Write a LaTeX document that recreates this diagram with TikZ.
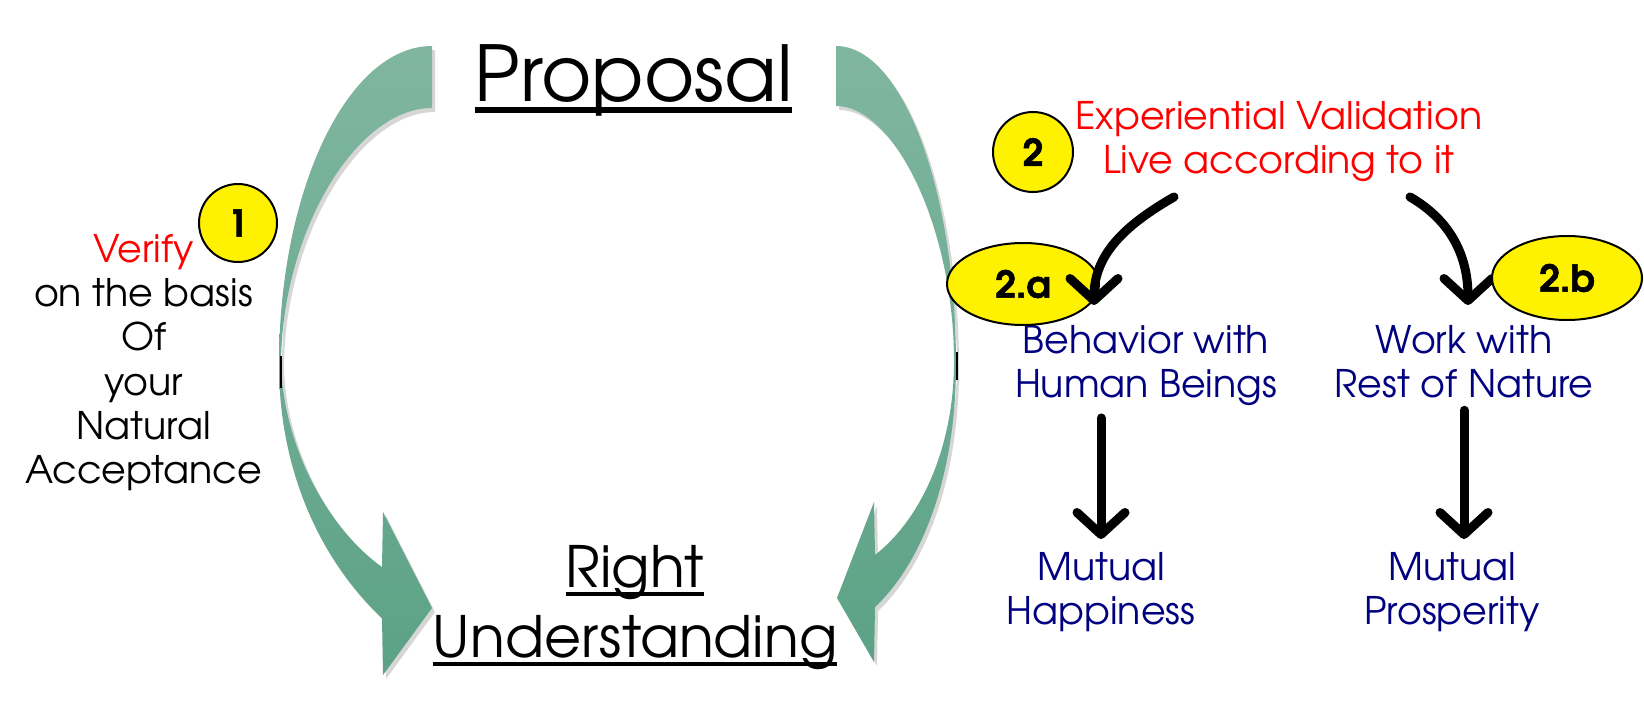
\documentclass[tikz,border=0pt]{standalone}
\usepackage{fontspec}
\setmainfont{TeX Gyre Adventor}
\newfontfamily\badgefont{TeX Gyre Adventor}[BoldFeatures={FakeBold=1.5}]
\usepackage{tikz}
\usetikzlibrary{arrows.meta, positioning, calc, shapes.geometric}
\definecolor{navytext}{RGB}{0,0,128}
\definecolor{bendtop}{RGB}{128,182,160}
\definecolor{bendbot}{RGB}{92,162,134}
\tikzset{
  bigtitle/.style   = {font=\fontsize{77}{92}\selectfont, inner sep=0pt},
  subtitle/.style   = {font=\fontsize{57}{70}\selectfont, align=center,
                       inner sep=0pt, anchor=north},
  bodytext/.style   = {font=\fontsize{38}{44.3}\selectfont, align=center,
                       inner sep=0pt, anchor=north},
  redtext/.style    = {bodytext, text=red},
  bluetext/.style   = {bodytext, text=navytext},
  badge/.style      = {draw=black, line width=2pt, fill=yellow, inner sep=0pt,
                       font=\badgefont\bfseries\fontsize{37}{40}\selectfont},
  numcircle/.style  = {badge, circle, minimum size=78pt},
  numellipse/.style = {badge, ellipse, minimum width=152pt, minimum height=82pt},
  blackarrow/.style = {line width=9pt, line cap=round,
                       -{Straight Barb[round, length=22pt, width=48pt]}},
  bendfill/.style   = {top color=bendtop, bottom color=bendbot, draw=none},
  bendshadow/.style = {fill=black, opacity=0.16},
}
\newcommand{\ulword}[1]{\setbox0\hbox{#1}\rlap{\rule[-0.15em]{\wd0}{0.07em}}\box0}
% green bent arrows, in pixel coordinates of the slide
\newcommand{\leftbend}{(432,-46) .. controls (348,-46) and (279,-189) .. (279,-365)
  .. controls (279,-470) and (320,-560) .. (382,-618)
  -- (383,-675) -- (432,-608) -- (383,-512) -- (382,-567)
  .. controls (330,-530) and (284,-450) .. (281,-365)
  .. controls (281,-235) and (355,-108) .. (432,-108) -- cycle}
\newcommand{\rightbend}{(836,-46) .. controls (902,-46) and (956,-189) .. (956,-365)
  .. controls (956,-470) and (925,-560) .. (875,-607)
  -- (874,-662) -- (837,-598) -- (874,-502) -- (875,-555)
  .. controls (920,-520) and (953,-450) .. (954,-365)
  .. controls (955,-230) and (895,-106) .. (836,-106) -- cycle}

\begin{document}
\begin{tikzpicture}[x=1pt, y=1pt, >=Latex]

    \fill[white] (0,0) rectangle (1644,-712);
    \useasboundingbox (0,0) rectangle (1644,-712);

    % --- bent arrows from proposal to understanding -------------------------
    \fill[bendshadow, shift={(3,-4)}] \leftbend;
    \fill[bendshadow, shift={(3,-4)}] \rightbend;
    \shade[bendfill] \leftbend;
    \shade[bendfill] \rightbend;
    \draw[line width=1.5pt] (281,-356) -- (281,-388);
    \draw[line width=1.5pt] (957,-352) -- (957,-380);

    % --- titles ---------------------------------------------------------------
    \node[bigtitle, anchor=base] (proposal) at (633.5,-101) {\ulword{Proposal}};
    \node[subtitle] (understanding) at (635,-545)
      {\ulword{Right}\\\ulword{Understanding}};

    % --- step 1 ---------------------------------------------------------------
    \node[bodytext] (verify) at (143.5,-234)
      {\textcolor{red}{Verify}\\on the basis\\Of\\your\\Natural\\Acceptance};
    \node[numcircle] (one) at (238,-223) {1};

    % --- step 2 ---------------------------------------------------------------
    \node[redtext] (exp) at (1279,-101) {Experiential Validation\\Live according to it};
    \node[numcircle, minimum size=80pt] (two) at (1033,-152) {2};

    \node[bluetext] (beh) at (1146,-325) {Behavior with\\Human Beings};
    \node[bluetext] (work) at (1464,-325) {Work with\\Rest of Nature};
    \node[bluetext] (mhap) at (1101,-552) {Mutual\\Happiness};
    \node[bluetext] (mpro) at (1452,-552) {Mutual\\Prosperity};

    \node[numellipse] (twoa) at (1023,-284) {2.a};

    \draw[blackarrow] ([xshift=-105pt, yshift=-15pt]exp.south)
      to[out=210, in=90] ([xshift=-52pt, yshift=20pt]beh.north);
    \draw[blackarrow] ([xshift=131pt, yshift=-15pt]exp.south)
      to[out=-30, in=90] ([xshift=4pt, yshift=20pt]work.north);

    \draw[blackarrow, shorten <=12pt, shorten >=13pt] (mhap.north |- beh.south) -- (mhap.north);
    \draw[blackarrow, shorten <=12pt, shorten >=13pt] (work.south) -- (work.south |- mpro.north);

    \node[numellipse, minimum width=150pt, minimum height=84pt] (twob) at (1567,-278) {2.b};

\end{tikzpicture}
\end{document}
